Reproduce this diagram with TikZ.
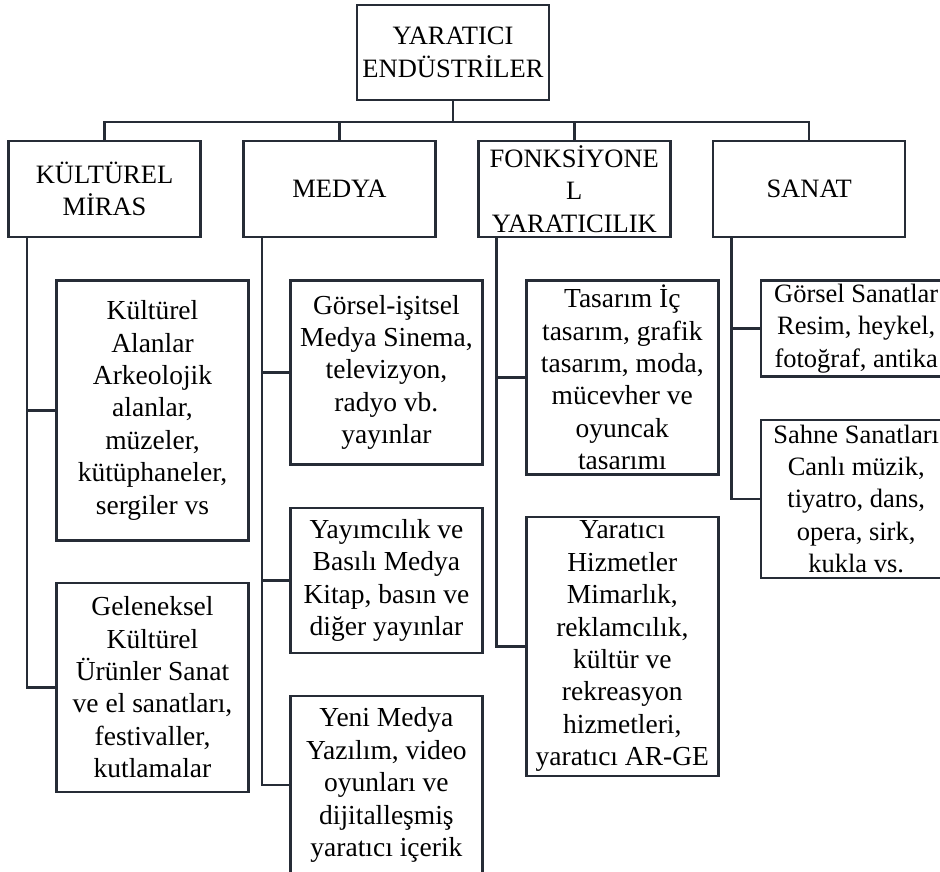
\documentclass[tikz,border=0pt]{standalone}
\usepackage{fontspec}
\setmainfont{Liberation Serif}
\usepackage{xcolor}
\usetikzlibrary{positioning}

\definecolor{framegray}{RGB}{38,44,54}

\begin{document}
\begin{tikzpicture}[
  x=1pt, y=1pt,
  node distance=40.5pt and 40.5pt,
  box/.style={draw=framegray, line width=2.4pt, minimum width=192pt, inner sep=1pt, align=center, font=\fontsize{27.5}{32.4}\selectfont},
  catbox/.style={box, minimum height=96pt, font=\fontsize{26.5}{32.4}\selectfont},
  edgebox/.style={box, minimum width=190pt, font=\fontsize{26.5}{32.4}\selectfont},
  link/.style={draw=framegray, line width=2.4pt},
]
\useasboundingbox (0,0) rectangle (940,-871);

% Nodes
\node[catbox, minimum height=95pt] (root) at (453,-52.5) {YARATICI\\ENDÜSTRİLER};
\node[catbox] (kultur) at (104.5,-189) {KÜLTÜREL\\MİRAS};
\node[catbox, right=of kultur] (medya) {MEDYA};
\node[catbox, right=of medya] (fonk) {FONKSİYONE\\L\\YARATICILIK};
\node[catbox, right=of fonk] (sanat) {SANAT};

\node[box, minimum height=260pt, below right=41pt and 48pt of kultur.south west] (alanlar) {Kültürel\\Alanlar\\Arkeolojik\\alanlar,\\müzeler,\\kütüphaneler,\\sergiler vs};
\node[box, minimum height=209pt, below=40pt of alanlar] (geleneksel) {Geleneksel\\Kültürel\\Ürünler Sanat\\ve el sanatları,\\festivaller,\\kutlamalar};

\node[box, minimum height=184pt, below right=41pt and 47pt of medya.south west] (gorsel) {Görsel-işitsel\\Medya Sinema,\\televizyon,\\radyo vb.\\yayınlar};
\node[box, minimum height=145pt, below=41pt of gorsel] (yayim) {Yayımcılık ve\\Basılı Medya\\Kitap, basın ve\\diğer yayınlar};
\node[box, minimum height=178pt, below=41pt of yayim] (yeni) {Yeni Medya\\Yazılım, video\\oyunları ve\\dijitalleşmiş\\yaratıcı içerik};

\node[box, minimum height=194pt, below right=41pt and 48pt of fonk.south west] (tasarim) {Tasarım İç\\tasarım, grafik\\tasarım, moda,\\mücevher ve\\oyuncak\\tasarımı};
\node[box, minimum height=259pt, below=40pt of tasarim] (hizmet) {Yaratıcı\\Hizmetler\\Mimarlık,\\reklamcılık,\\kültür ve\\rekreasyon\\hizmetleri,\\yaratıcı AR-GE};

\node[edgebox, minimum height=96pt, below right=41pt and 48pt of sanat.south west] (gsanat) {Görsel Sanatlar\\Resim, heykel,\\fotoğraf, antika};
\node[edgebox, minimum height=158pt, below=41pt of gsanat] (sahne) {Sahne Sanatları\\Canlı müzik,\\tiyatro, dans,\\opera, sirk,\\kukla vs.};

% Lines
\foreach \cat in {kultur,medya,fonk,sanat}
  \draw[link] (root.south) -- ++(0,-20.5) -| (\cat.north);

\draw[link] ([xshift=19.5pt]kultur.south west) |- (alanlar.west);
\draw[link] ([xshift=19.5pt]kultur.south west) |- (geleneksel.west);

\draw[link] ([xshift=19.5pt]medya.south west) |- (gorsel.west);
\draw[link] ([xshift=19.5pt]medya.south west) |- (yayim.west);
\draw[link] ([xshift=19.5pt]medya.south west) |- (yeni.west);

\draw[link] ([xshift=19.5pt]fonk.south west) |- (tasarim.west);
\draw[link] ([xshift=19.5pt]fonk.south west) |- (hizmet.west);

\draw[link] ([xshift=19.5pt]sanat.south west) |- (gsanat.west);
\draw[link] ([xshift=19.5pt]sanat.south west) |- (sahne.west);

\end{tikzpicture}
\end{document}
